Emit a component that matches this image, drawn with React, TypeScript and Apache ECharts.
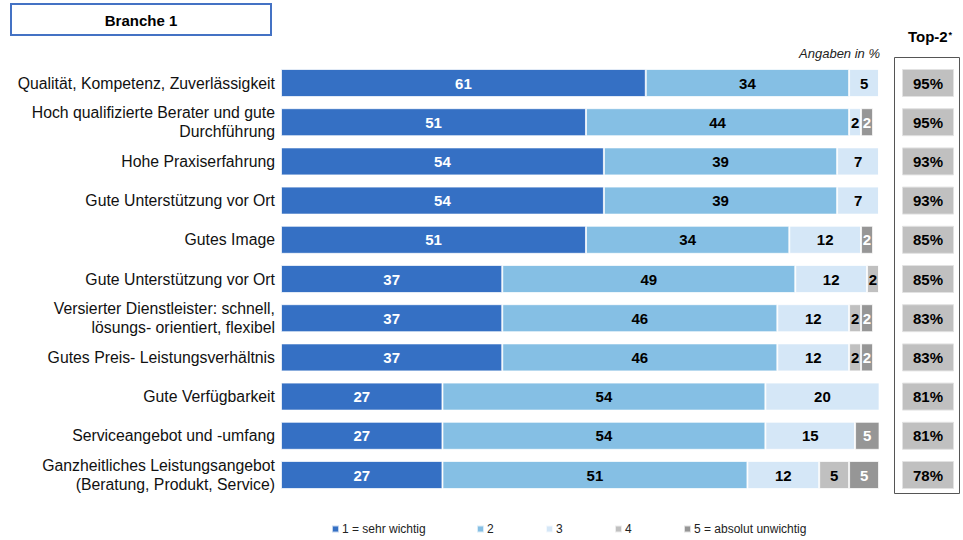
import React, { useEffect, useRef } from "react";
import * as echarts from "echarts";

const categories = [
  "Qualität, Kompetenz, Zuverlässigkeit",
  "Hoch qualifizierte Berater und gute\nDurchführung",
  "Hohe Praxiserfahrung",
  "Gute Unterstützung vor Ort",
  "Gutes Image",
  "Gute Unterstützung vor Ort",
  "Versierter Dienstleister: schnell,\nlösungs- orientiert, flexibel",
  "Gutes Preis- Leistungsverhältnis",
  "Gute Verfügbarkeit",
  "Serviceangebot und -umfang",
  "Ganzheitliches Leistungsangebot\n(Beratung, Produkt, Service)",
];

const seriesNames = ["1 = sehr wichtig", "2", "3", "4", "5 = absolut unwichtig"];
const s1 = [61, 51, 54, 54, 51, 37, 37, 37, 27, 27, 27];
const s2 = [34, 44, 39, 39, 34, 49, 46, 46, 54, 54, 51];
const s3 = [5, 2, 7, 7, 12, 12, 12, 12, 20, 15, 12];
const s4 = [0, 0, 0, 0, 0, 2, 2, 2, 0, 0, 5];
const s5 = [0, 2, 0, 0, 2, 0, 2, 2, 0, 5, 5];
const top2 = [95, 95, 93, 93, 85, 85, 83, 83, 81, 81, 78];

const colors = ["#3570c4", "#85bfe4", "#d5e7f7", "#c0c0c0", "#969696"];
const labelColors = ["#ffffff", "#000000", "#000000", "#000000", "#ffffff"];
const legendLefts = [331, 476, 545, 614, 683];

const FONT = "'Liberation Sans', Arial, sans-serif";
const GRID_TOP = 63.4;
const GRID_H = 431.2;

export default function App() {
  const ref = useRef<HTMLDivElement>(null);
  useEffect(() => {
    const chart = echarts.init(ref.current!, null, { renderer: "svg" });
    const values = [s1, s2, s3, s4, s5];
    const barSeries = values.map((vals, i) => ({
      name: seriesNames[i],
      type: "bar",
      stack: "total",
      barWidth: 28,
      xAxisIndex: 0,
      yAxisIndex: 0,
      data: vals,
      itemStyle: {
        color: colors[i],
        borderColor: "rgba(255,255,255,0.7)",
        borderWidth: 1,
      },
      label: {
        show: true,
        position: "inside",
        formatter: (p: any) => (p.value ? String(p.value) : ""),
        color: labelColors[i],
        fontSize: 15,
        fontWeight: "bold",
        fontFamily: FONT,
      },
      emphasis: { disabled: true },
    }));

    const option: any = {
      animation: false,
      textStyle: { fontFamily: FONT },
      grid: [
        { left: 281, right: 84, top: GRID_TOP, height: GRID_H },
        { left: 902, width: 52, top: GRID_TOP, height: GRID_H },
      ],
      xAxis: [
        { type: "value", min: 0, max: 100, show: false, gridIndex: 0 },
        { type: "value", min: 0, max: 100, show: false, gridIndex: 1 },
      ],
      yAxis: [
        {
          type: "category",
          gridIndex: 0,
          data: categories,
          inverse: true,
          axisLine: { show: false },
          axisTick: { show: false },
          splitLine: { show: false },
          axisLabel: {
            fontSize: 15.8,
            color: "#111",
            margin: 6,
            lineHeight: 19,
            fontFamily: FONT,
            formatter: (_v: string, idx: number) => categories[idx],
          },
        },
        {
          type: "category",
          gridIndex: 1,
          data: categories,
          inverse: true,
          show: false,
        },
      ],
      legend: seriesNames.map((n, i) => ({
        data: [n],
        left: legendLefts[i],
        top: 523,
        padding: 0,
        icon: "rect",
        itemWidth: 7,
        itemHeight: 7,
        selectedMode: false,
        textStyle: { fontSize: 12, color: "#222", fontFamily: FONT, padding: [0, 0, 0, -2] },
      })),
      series: [
        ...barSeries,
        {
          name: "Top-2",
          type: "bar",
          xAxisIndex: 1,
          yAxisIndex: 1,
          barWidth: 28,
          data: top2.map(() => 100),
          itemStyle: { color: "#c0c0c0", borderColor: "#e2e2e2", borderWidth: 1 },
          label: {
            show: true,
            position: "inside",
            formatter: (p: any) => top2[p.dataIndex] + "%",
            color: "#000",
            fontSize: 15,
            fontWeight: "bold",
            fontFamily: FONT,
          },
          emphasis: { disabled: true },
        },
      ],
      graphic: [
        {
          type: "rect",
          shape: { x: 11, y: 4, width: 260, height: 31 },
          style: { fill: "#fff", stroke: "#4472c4", lineWidth: 2 },
        },
        {
          type: "text",
          style: {
            text: "Branche 1",
            x: 141,
            y: 20,
            align: "center",
            verticalAlign: "middle",
            fontSize: 15,
            fontWeight: "bold",
            fontFamily: FONT,
            fill: "#000",
          },
        },
        {
          type: "text",
          style: {
            text: "Angaben in %",
            x: 880,
            y: 53,
            align: "right",
            verticalAlign: "middle",
            fontSize: 13,
            fontStyle: "italic",
            fontFamily: FONT,
            fill: "#222",
          },
        },
        {
          type: "text",
          style: {
            text: "Top-2",
            x: 908,
            y: 36,
            align: "left",
            verticalAlign: "middle",
            fontSize: 15,
            fontWeight: "bold",
            fontFamily: FONT,
            fill: "#000",
          },
        },
        {
          type: "text",
          style: {
            text: "*",
            x: 948.5,
            y: 30.5,
            align: "left",
            verticalAlign: "top",
            fontSize: 9,
            fontWeight: "bold",
            fontFamily: FONT,
            fill: "#000",
          },
        },
        {
          type: "rect",
          shape: { x: 894.5, y: 57.5, width: 65, height: 436 },
          style: { fill: "none", stroke: "#555", lineWidth: 1 },
        },
      ],
    };
    chart.setOption(option);
    return () => chart.dispose();
  }, []);
  return (
    <div
      ref={ref}
      style={{ position: "absolute", left: 0, top: 0, width: 963, height: 540 }}
    />
  );
}
